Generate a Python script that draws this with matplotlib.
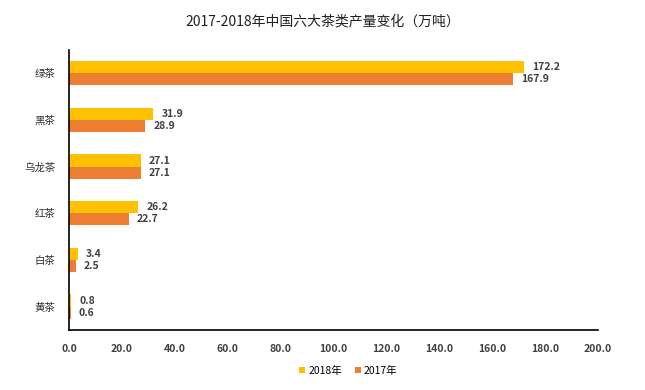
import matplotlib
matplotlib.use("Agg")
import matplotlib.pyplot as plt
import numpy as np

plt.rcParams['font.family'] = ['Noto Sans CJK SC', 'DejaVu Sans']

categories = ["绿茶", "黑茶", "乌龙茶", "红茶", "白茶", "黄茶"]
values_2018 = [172.2, 31.9, 27.1, 26.2, 3.4, 0.8]
values_2017 = [167.9, 28.9, 27.1, 22.7, 2.5, 0.6]
series_names = ["2018年", "2017年"]
xticks = [0, 20, 40, 60, 80, 100, 120, 140, 160, 180, 200]

fig = plt.figure(figsize=(6.45, 3.9), dpi=100)
ax = fig.add_axes([0.107, 0.154, 0.82, 0.718])

y = np.arange(len(categories))
h = 0.26
b1 = ax.barh(y - h / 2, values_2018, height=h, color="#FFC000", label=series_names[0])
b2 = ax.barh(y + h / 2, values_2017, height=h, color="#ED7D31", label=series_names[1])

for bars in (b1, b2):
    for bar in bars:
        w = bar.get_width()
        ax.text(w + 3, bar.get_y() + bar.get_height() / 2, f"{w:.1f}",
                va="center", ha="left", fontsize=7.5, fontweight="bold", color="#404040")

ax.set_ylim(len(categories) - 0.5, -0.5)
ax.set_xlim(0, 200)
ax.set_yticks(y)
ax.set_yticklabels(categories, fontsize=7.5, fontweight="medium", color="#303030")
ax.set_xticks(xticks)
ax.set_xticklabels([f"{v:.1f}" for v in xticks], fontsize=7.5, fontweight="bold", color="#404040")
ax.tick_params(axis="both", length=0)
ax.tick_params(axis="y", pad=10)
ax.tick_params(axis="x", pad=10)
for s in ("top", "right"):
    ax.spines[s].set_visible(False)
for s in ("left", "bottom"):
    ax.spines[s].set_color("black")
    ax.spines[s].set_linewidth(1.2)

fig.text(0.5, 0.945, "2017-2018年中国六大茶类产量变化（万吨）", ha="center", va="center",
         fontsize=10, fontweight="medium", color="#202020")

fig.legend(handles=[b1, b2], loc="center", bbox_to_anchor=(0.54, 0.05), ncol=2,
           frameon=False, fontsize=7.5, handlelength=0.6, handleheight=0.6,
           columnspacing=1.2, handletextpad=0.3)

fig.savefig("out.png", dpi=100)
